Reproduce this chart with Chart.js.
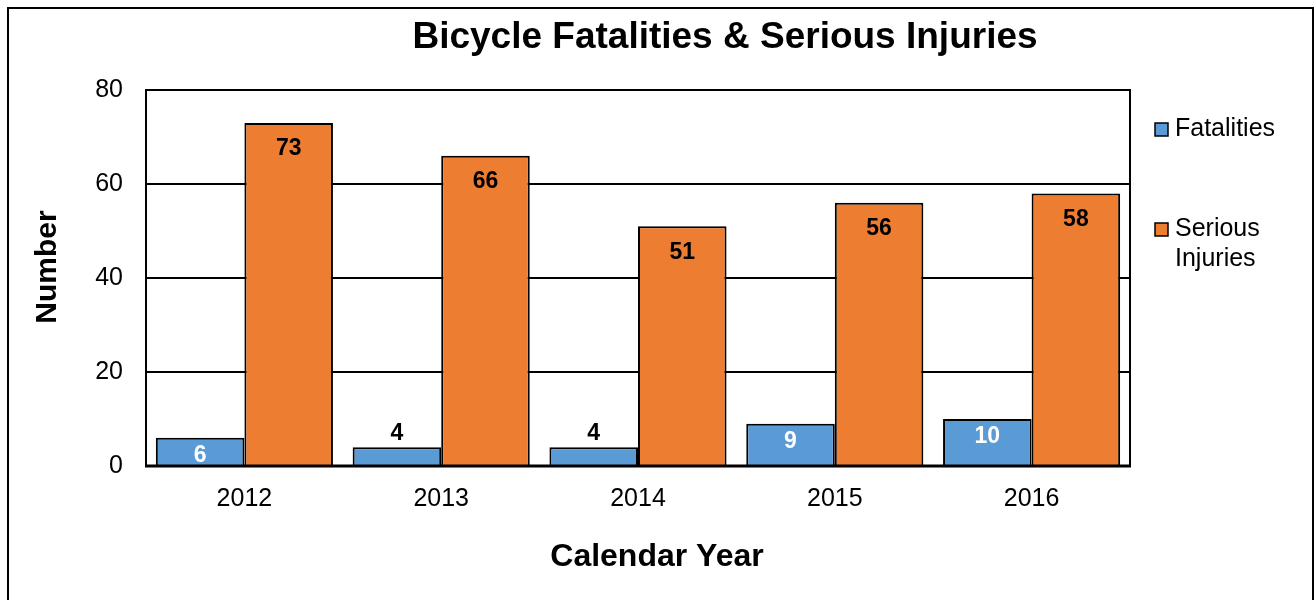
<!DOCTYPE html>
<html><head><meta charset="utf-8">
<script src="https://cdn.jsdelivr.net/npm/chart.js@4"></script>
<style>html,body{margin:0;padding:0;background:#fff;}#wrap{width:1315px;height:600px;position:relative;}</style>
</head><body><div id="wrap"><canvas id="c" width="1315" height="600"></canvas></div>
<script>
const categories = ['2012','2013','2014','2015','2016'];
const fatalities = [6,4,4,9,10];
const seriousInjuries = [73,66,51,56,58];
const yTicks = [0,20,40,60,80];
const chartTitle = 'Bicycle Fatalities & Serious Injuries';
const xTitle = 'Calendar Year';
const yTitle = 'Number';

const FONT = '"Liberation Sans", Arial, sans-serif';

const decor = {
  id:'decor',
  beforeDraw(chart){
    const ctx = chart.ctx;
    ctx.save();
    ctx.fillStyle='#fff';ctx.fillRect(0,0,chart.width,chart.height);
    ctx.strokeStyle='#000';ctx.lineWidth=2;
    ctx.strokeRect(8,8,1305,620);
    ctx.restore();
  },
  afterDatasetsDraw(chart){
    const ctx = chart.ctx, a = chart.chartArea;
    ctx.save();
    ctx.strokeStyle='#000';
    ctx.lineWidth=2;
    ctx.beginPath();
    ctx.moveTo(a.left,a.bottom);ctx.lineTo(a.left,a.top);ctx.lineTo(a.right,a.top);ctx.lineTo(a.right,a.bottom);
    ctx.stroke();
    ctx.lineWidth=3;
    ctx.beginPath();ctx.moveTo(a.left-1,a.bottom);ctx.lineTo(a.right+1,a.bottom);ctx.stroke();
    // data labels
    ctx.font='bold 23px '+FONT;
    ctx.textAlign='center';ctx.textBaseline='middle';
    chart.data.datasets.forEach((ds,di)=>{
      const meta = chart.getDatasetMeta(di);
      meta.data.forEach((bar,i)=>{
        const v = ds.data[i];
        const h = bar.base - bar.y;
        if(di===1){
          ctx.fillStyle='#000';
          ctx.fillText(String(v), bar.x, bar.y+26);
        } else if(h>=24){
          ctx.fillStyle='#fff';
          ctx.fillText(String(v), bar.x, bar.y+18);
        } else {
          ctx.fillStyle='#000';
          ctx.fillText(String(v), bar.x, bar.y-14);
        }
      });
    });
    // titles
    ctx.fillStyle='#000';
    ctx.font='bold 37px '+FONT;
    ctx.fillText(chartTitle, 725, 38);
    ctx.font='bold 32px '+FONT;
    ctx.fillText(xTitle, 657, 557);
    ctx.save();
    ctx.translate(48,267);ctx.rotate(-Math.PI/2);
    ctx.font='bold 30px '+FONT;
    ctx.fillText(yTitle,0,0);
    ctx.restore();
    // legend
    const items=[{c:'#5B9BD5',lines:['Fatalities'],y:129},{c:'#ED7D31',lines:['Serious','Injuries'],y:229}];
    ctx.font='25px '+FONT;ctx.textAlign='left';
    items.forEach(it=>{
      ctx.fillStyle=it.c;ctx.fillRect(1155,it.y-6,13,13);
      ctx.strokeStyle='#000';ctx.lineWidth=1.5;ctx.strokeRect(1155,it.y-6,13,13);
      ctx.fillStyle='#000';
      it.lines.forEach((t,k)=>ctx.fillText(t,1175,it.y+k*30));
    });
    ctx.restore();
  }
};

new Chart(document.getElementById('c'),{
  type:'bar',
  data:{labels:categories,datasets:[
    {label:'Fatalities',data:fatalities,backgroundColor:'#5B9BD5',borderColor:'#000',borderWidth:2,categoryPercentage:0.9,barPercentage:1.0},
    {label:'Serious Injuries',data:seriousInjuries,backgroundColor:'#ED7D31',borderColor:'#000',borderWidth:2,categoryPercentage:0.9,barPercentage:1.0}
  ]},
  options:{
    responsive:false,animation:false,
    layout:{padding:{top:90,right:185,left:0,bottom:0}},
    plugins:{legend:{display:false},title:{display:false},tooltip:{enabled:false}},
    scales:{
      x:{grid:{display:false,drawTicks:false},border:{display:false},
         ticks:{color:'#000',font:{family:FONT,size:25},padding:18},
         afterFit(s){s.height=134;}},
      y:{min:0,max:80,
         afterBuildTicks(s){s.ticks=yTicks.map(v=>({value:v}));},
         grid:{color:'#000',lineWidth:2,drawTicks:false},border:{display:false},
         ticks:{color:'#000',font:{family:FONT,size:25},padding:23},
         afterFit(s){s.width=146;}}
    }
  },
  plugins:[decor]
});
</script></body></html>
